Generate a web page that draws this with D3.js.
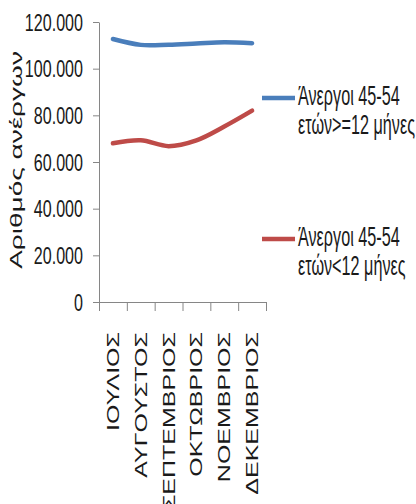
<!DOCTYPE html>
<html>
<head>
<meta charset="utf-8">
<script src="https://cdn.jsdelivr.net/npm/d3@7/dist/d3.min.js"></script>
<style>
  body { margin: 0; background: #fff; }
  svg text { font-family: "Liberation Sans", Arial, sans-serif; fill: #1a1a1a; }
</style>
</head>
<body>
<svg id="chart" width="416" height="504"></svg>
<script>
// data
const months = ['ΙΟΥΛΙΟΣ', 'ΑΥΓΟΥΣΤΟΣ', 'ΣΕΠΤΕΜΒΡΙΟΣ', 'ΟΚΤΩΒΡΙΟΣ', 'ΝΟΕΜΒΡΙΟΣ', 'ΔΕΚΕΜΒΡΙΟΣ'];
const longTerm = [112700, 110200, 110300, 110800, 111300, 110900]; // >=12 μήνες
const shortTerm = [68000, 69300, 66800, 69300, 75200, 82000]; // <12 μήνες
const yTicks = [0, 20000, 40000, 60000, 80000, 100000, 120000];
const seriesNames = [['Άνεργοι 45-54', 'ετών>=12 μήνες'], ['Άνεργοι 45-54', 'ετών<12 μήνες']];
const seriesColors = ['#4a7ebb', '#be4b48'];
const yTitle = 'Αριθμός ανέργων';

const svg = d3.select('#chart');
const axisColor = '#868686';
const plot = { left: 99, right: 266, top: 22, bottom: 302 };

const x = d3.scaleBand().domain(months).range([plot.left, plot.right]);
const xEdge = d3.scaleLinear().domain([0, months.length]).range([plot.left, plot.right]);
const y = d3.scaleLinear().domain([0, 120000]).range([plot.bottom, plot.top]);

const greek = d3.formatLocale({ decimal: ',', thousands: '.', grouping: [3], currency: ['', '€'] });
const fmt = greek.format(',');

// y axis
const gy = svg.append('g').attr('transform', `translate(${plot.left},0)`)
  .call(d3.axisLeft(y).tickValues(yTicks).tickFormat(fmt).tickSize(6).tickSizeOuter(0));
gy.selectAll('path, line').attr('stroke', axisColor);
gy.selectAll('text')
  .attr('x', 0).attr('dy', null)
  .attr('transform', 'translate(-16,8) scale(0.7,1)')
  .style('font-size', '23px')
  .attr('text-anchor', 'end');

// x axis (ticks between categories)
const gx = svg.append('g').attr('transform', `translate(0,${plot.bottom})`)
  .call(d3.axisBottom(xEdge).tickValues(d3.range(months.length + 1)).tickFormat('').tickSize(9).tickSizeOuter(0));
gx.selectAll('path, line').attr('stroke', axisColor);

// category labels, rotated
svg.append('g').selectAll('text').data(months).enter()
  .append('text')
  .attr('transform', d => `translate(${x(d) + x.bandwidth() / 2 + 6},332) scale(0.65,1) rotate(-90)`)
  .attr('text-anchor', 'end')
  .style('font-size', '25px')
  .text(d => d);

// y axis title
svg.append('text')
  .attr('transform', 'translate(22,160) scale(0.6,1) rotate(-90)')
  .attr('text-anchor', 'middle')
  .style('font-size', '28px')
  .text(yTitle);

// lines
const line = d3.line()
  .x((d, i) => x(months[i]) + x.bandwidth() / 2)
  .y(d => y(d))
  .curve(d3.curveCatmullRom);

[longTerm, shortTerm].forEach((values, i) => {
  svg.append('path')
    .datum(values)
    .attr('d', line)
    .attr('fill', 'none')
    .attr('stroke', seriesColors[i])
    .attr('stroke-width', 4.5)
    .attr('stroke-linecap', 'round');
});

// legend
const legendTop = [105, 246];
seriesNames.forEach((name, i) => {
  const g = svg.append('g').attr('transform', `translate(262,${legendTop[i]})`);
  g.append('line')
    .attr('x1', 0).attr('x2', 33).attr('y1', -7).attr('y2', -7)
    .attr('stroke', seriesColors[i]).attr('stroke-width', 4.5);
  name.forEach((txt, j) => {
    g.append('text')
      .attr('transform', `translate(36,${j * 29}) scale(0.6,1)`)
      .style('font-size', '27px')
      .text(txt);
  });
});
</script>
</body>
</html>
